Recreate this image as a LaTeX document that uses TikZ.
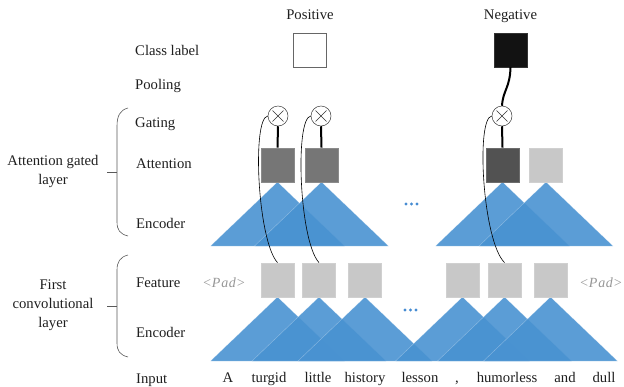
\documentclass[tikz,border=0pt]{standalone}
\usepackage{fontspec}
\setmainfont{Liberation Serif}
\usetikzlibrary{calc}
\definecolor{encblue}{RGB}{73,146,209}
\definecolor{featgray}{RGB}{200,200,200}
\definecolor{attgray}{RGB}{118,118,118}
\definecolor{attdark}{RGB}{82,82,82}
\definecolor{padgray}{RGB}{150,150,150}
\definecolor{dotblue}{RGB}{70,140,210}
\tikzset{
  lbl/.style={font=\fontsize{14.7}{19}\selectfont, inner sep=0pt, text=black!88},
  tri/.style={fill=encblue, fill opacity=0.9, draw=white, draw opacity=0.35, line width=0.4pt},
  sq/.style={minimum width=33pt, minimum height=34pt, inner sep=0pt, line width=0.4pt},
  feat/.style={sq, fill=featgray, draw=featgray!85!white},
  att/.style={sq, fill=attgray, draw=attgray!85!white},
  gate/.style={circle, draw=black!75, fill=white, minimum size=20pt, inner sep=0pt, line width=0.5pt},
  thick link/.style={line width=2pt, black},
  thin link/.style={line width=0.6pt, black},
  bracket/.style={draw=black!65, line width=0.6pt},
  pad/.style={lbl, text=padgray, font=\fontsize{14}{17}\selectfont\itshape},
  dot/.style={circle, fill=dotblue, inner sep=0pt, minimum size=3.4pt}
}
\newcommand{\padtext}{\textless P\kern0.8pt a\kern0.5pt d\kern0.3pt\textgreater}
\begin{document}
\begin{tikzpicture}[x=1pt,y=-1pt]
\useasboundingbox (0,0) rectangle (624,386);
% apex coordinates
\coordinate (ua1) at (277.5,182);
\coordinate (ua2) at (321.5,182);
\coordinate (ua3) at (502.5,182);
\coordinate (ua4) at (546,182);
\coordinate (la1) at (277.5,297);
\coordinate (la2) at (319,297);
\coordinate (la3) at (365,297);
\coordinate (la4) at (462.5,297);
\coordinate (la5) at (504.5,297);
\coordinate (la6) at (550.5,297);
% encoder triangles (upper)
\foreach \a in {ua1,ua2,ua3,ua4}{
  \path[tri] (\a) -- ++(67,64) -- ++(-134,0) -- cycle;
}
% encoder triangles (lower)
\foreach \a in {la1,la2,la3,la4,la5,la6}{
  \path[tri] (\a) -- ++(67,64) -- ++(-134,0) -- cycle;
}
% class label squares
\node[sq, draw=black!60, fill=white, line width=0.7pt] (pos) at (310,50) {};
\node[sq, fill=black!93, draw=black!80] (neg) at (510.5,50) {};
\node[lbl, anchor=base] (tpos) at (310,19) {Positive};
\node[lbl, anchor=base] (tneg) at (510.5,19) {Negative};
% attention squares
\node[att, anchor=south] (at1) at (ua1) {};
\node[att, anchor=south] (at2) at (ua2) {};
\node[sq, fill=attdark, draw=attdark!85!white, anchor=south] (at3) at (ua3) {};
\node[feat, anchor=south] (at4) at (ua4) {};
% feature squares
\node[feat, anchor=south] (f1) at (la1) {};
\node[feat, anchor=south] (f2) at (la2) {};
\node[feat, anchor=south] (f3) at (la3) {};
\node[feat, anchor=south] (f4) at (la4) {};
\node[feat, anchor=south] (f5) at (la5) {};
\node[feat, anchor=south] (f6) at (la6) {};
% gates
\node[gate] (g1) at (278,116) {};
\node[gate] (g2) at (321,116) {};
\node[gate] (g3) at (502,116) {};
\foreach \g in {g1,g2,g3}{
  \draw[black!80, line width=0.6pt] ($(\g)+(-5.5,-5.5)$) -- ($(\g)+(5.5,5.5)$)
        ($(\g)+(-5.5,5.5)$) -- ($(\g)+(5.5,-5.5)$);
}
% thick links
\draw[thick link] (g1.south) -- (at1.north);
\draw[thick link] (g2.south) -- (at2.north);
\draw[thick link] (g3.south) -- (at3.north);
\draw[thick link] (neg.south) .. controls (510,88) and (503,90) .. (g3.north);
% thin curves from gates to features
\draw[thin link] (g1.west) .. controls +(-16,2) and +(-20,-22) .. (f1.north);
\draw[thin link] (g2.west) .. controls +(-16,2) and +(-20,-22) .. (f2.north);
\draw[thin link] (g3.west) .. controls +(-16,2) and +(-22,-22) .. (f5.north);
% dots
\node[dot] (d1) at (406,204) {};
\node[dot] (d2) at (411.5,204) {};
\node[dot] (d3) at (417,204) {};
\node[dot] (d4) at (405,310) {};
\node[dot] (d5) at (410.5,310) {};
\node[dot] (d6) at (416,310) {};
% pads
\node[pad, anchor=base] (p1) at (224,287) {\padtext};
\node[pad, anchor=base] (p2) at (601,287) {\padtext};
% row labels
\node[lbl, anchor=base west] (l1) at (135,55) {Class label};
\node[lbl, anchor=base west] (l2) at (135,89) {Pooling};
\node[lbl, anchor=base west] (l3) at (135,127) {Gating};
\node[lbl, anchor=base west] (l4) at (136,168) {Attention};
\node[lbl, anchor=base west] (l5) at (136,228) {Encoder};
\node[lbl, anchor=base west] (l6) at (136,287) {Feature};
\node[lbl, anchor=base west] (l7) at (136,337) {Encoder};
\node[lbl, anchor=base west] (l8) at (136,383) {Input};
% group labels
\node[lbl, align=center, anchor=center] (gl1) at (53,171) {Attention gated\\layer};
\node[lbl, align=center, anchor=center] (gl2) at (53,305) {First\\convolutional\\layer};
% brackets
\draw[bracket] (128,108) .. controls (120,110) and (117,116) .. (117,126) -- (117,222) .. controls (117,230) and (120,234) .. (128,236);
\coordinate (bt1) at (107,172);
\draw[bracket] (bt1) -- ++(10,0);
\draw[bracket] (128,255) .. controls (120,257) and (117,262) .. (117,270) -- (117,343) .. controls (117,351) and (120,355) .. (128,357);
\coordinate (bt2) at (107,306);
\draw[bracket] (bt2) -- ++(10,0);
% input words
\node[lbl, anchor=base] (w1) at (228,382) {A};
\node[lbl, anchor=base] (w2) at (269,382) {turgid};
\node[lbl, anchor=base] (w3) at (318,382) {little};
\node[lbl, anchor=base] (w4) at (365,382) {history};
\node[lbl, anchor=base] (w5) at (420,382) {lesson};
\node[lbl, anchor=base] (w6) at (457,382) {,};
\node[lbl, anchor=base] (w7) at (507,382) {humorless};
\node[lbl, anchor=base] (w8) at (565,382) {and};
\node[lbl, anchor=base] (w9) at (604,382) {dull};
\end{tikzpicture}
\end{document}
